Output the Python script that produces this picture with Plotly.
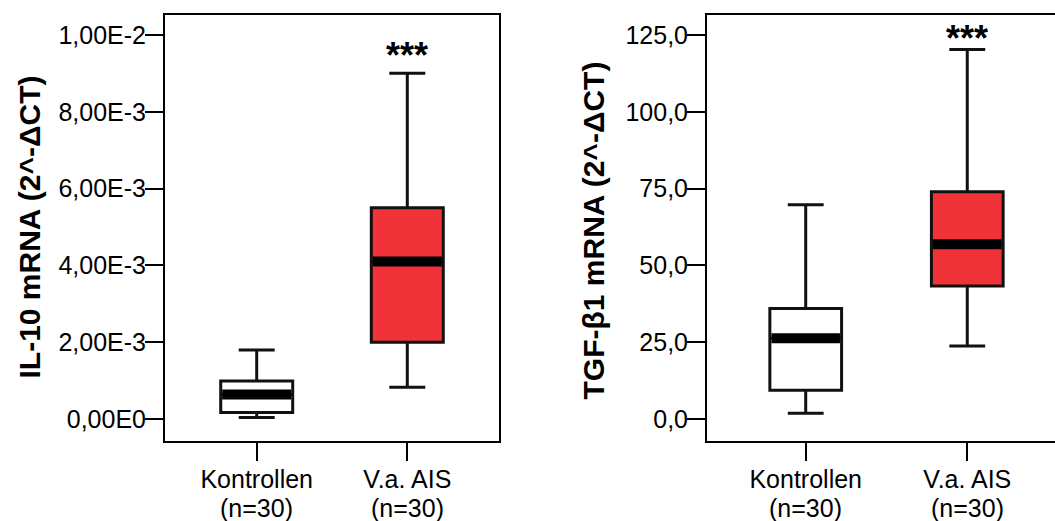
import plotly.graph_objects as go

# Group labels and sample sizes
groups = ["Kontrollen", "V.a. AIS"]
group_n = ["(n=30)", "(n=30)"]
fill_colors = ["#FFFFFF", "#EF3339"]

# IL-10 mRNA (2^-ΔCT) box statistics
il10_low = [0.00004, 0.00083]
il10_q1 = [0.00017, 0.0020]
il10_median = [0.00064, 0.0041]
il10_q3 = [0.00099, 0.0055]
il10_high = [0.0018, 0.0090]

# TGF-β1 mRNA (2^-ΔCT) box statistics
tgf_low = [1.9, 23.8]
tgf_q1 = [9.4, 43.3]
tgf_median = [26.3, 56.9]
tgf_q3 = [36.0, 74.0]
tgf_high = [69.7, 120.3]

# Axis ticks
il10_ticks = [0.0, 0.002, 0.004, 0.006, 0.008, 0.010]
il10_ticktext = ["0,00E0", "2,00E-3", "4,00E-3", "6,00E-3", "8,00E-3", "1,00E-2"]
tgf_ticks = [0, 25, 50, 75, 100, 125]
tgf_ticktext = ["0,0", "25,0", "50,0", "75,0", "100,0", "125,0"]

FONT = "Liberation Sans, Arial, sans-serif"
W, H = 1055, 521

fig = go.Figure()

panels = [
    dict(xa="x", ya="y", low=il10_low, q1=il10_q1, med=il10_median, q3=il10_q3,
         high=il10_high, width=0.478),
    dict(xa="x2", ya="y2", low=tgf_low, q1=tgf_q1, med=tgf_median, q3=tgf_q3,
         high=tgf_high, width=0.444),
]

for p in panels:
    for i in range(len(groups)):
        fig.add_trace(go.Box(
            x=[i], q1=[p["q1"][i]], median=[p["med"][i]], q3=[p["q3"][i]],
            lowerfence=[p["low"][i]], upperfence=[p["high"][i]],
            width=p["width"], whiskerwidth=0.5,
            fillcolor=fill_colors[i], line=dict(color="#111111", width=3),
            boxpoints=False, hoverinfo="skip", showlegend=False,
            xaxis=p["xa"], yaxis=p["ya"],
        ))
        # thick median bar across the box
        half = p["width"] / 2
        fig.add_trace(go.Scatter(
            x=[i - half + 0.01, i + half - 0.01], y=[p["med"][i], p["med"][i]],
            mode="lines", line=dict(color="black", width=10),
            hoverinfo="skip", showlegend=False,
            xaxis=p["xa"], yaxis=p["ya"],
        ))

ybot = 1 - 440.7 / H
ytop = 1 - 15 / H

axis_common = dict(
    showgrid=False, zeroline=False, showline=True, linecolor="black",
    linewidth=2, ticks="outside", ticklen=18, tickwidth=2, tickcolor="black",
    tickfont=dict(family=FONT, size=25, color="black"), automargin=False,
)

fig.update_layout(
    width=W, height=H,
    margin=dict(l=0, r=0, t=0, b=0),
    plot_bgcolor="white", paper_bgcolor="white",
    xaxis=dict(domain=[165 / W, 499 / W], range=[-0.609, 1.609],
               tickvals=[0, 1], ticktext=groups, mirror=True,
               anchor="y", ticklabelstandoff=-3, **axis_common),
    yaxis=dict(domain=[ybot, ytop], range=[-0.000565, 0.01052],
               tickvals=il10_ticks, ticktext=il10_ticktext, mirror=True,
               anchor="x", ticklabelstandoff=-6, **axis_common),
    xaxis2=dict(domain=[707 / W, 1.0], range=[-0.611, 1.543],
                tickvals=[0, 1], ticktext=groups, mirror=True,
                anchor="y2", ticklabelstandoff=-3, **axis_common),
    yaxis2=dict(domain=[ybot, ytop], range=[-7.06, 131.5],
                tickvals=tgf_ticks, ticktext=tgf_ticktext, mirror=False,
                anchor="x2", ticklabelstandoff=-6, **axis_common),
)

# sample-size line under each group name
n_font = dict(family=FONT, size=25, color="black")
for xa in ["x", "x2"]:
    for i, n in enumerate(group_n):
        fig.add_annotation(text=n, xref=xa, yref="paper", x=i,
                           y=1 - 508 / H, xanchor="center", yanchor="middle",
                           showarrow=False, font=n_font)

title_font = dict(family=FONT, size=30, color="black", weight="bold")
fig.add_annotation(text="IL-10 mRNA (2^-ΔCT)", textangle=-90,
                   xref="paper", yref="paper", x=29 / W, y=1 - 227.5 / H,
                   xanchor="center", yanchor="middle", showarrow=False,
                   font=title_font)
fig.add_annotation(text="TGF-β1 mRNA (2^-ΔCT)", textangle=-90,
                   xref="paper", yref="paper", x=593 / W, y=1 - 230.5 / H,
                   xanchor="center", yanchor="middle", showarrow=False,
                   font=title_font)

star_font = dict(family=FONT, size=36, color="black", weight="bold")
fig.add_annotation(text="***", xref="x", yref="paper", x=1,
                   y=1 - 56 / H, xanchor="center", yanchor="middle",
                   showarrow=False, font=star_font)
fig.add_annotation(text="***", xref="x2", yref="paper", x=1,
                   y=1 - 38 / H, xanchor="center", yanchor="middle",
                   showarrow=False, font=star_font)

fig.write_html("out.html")
